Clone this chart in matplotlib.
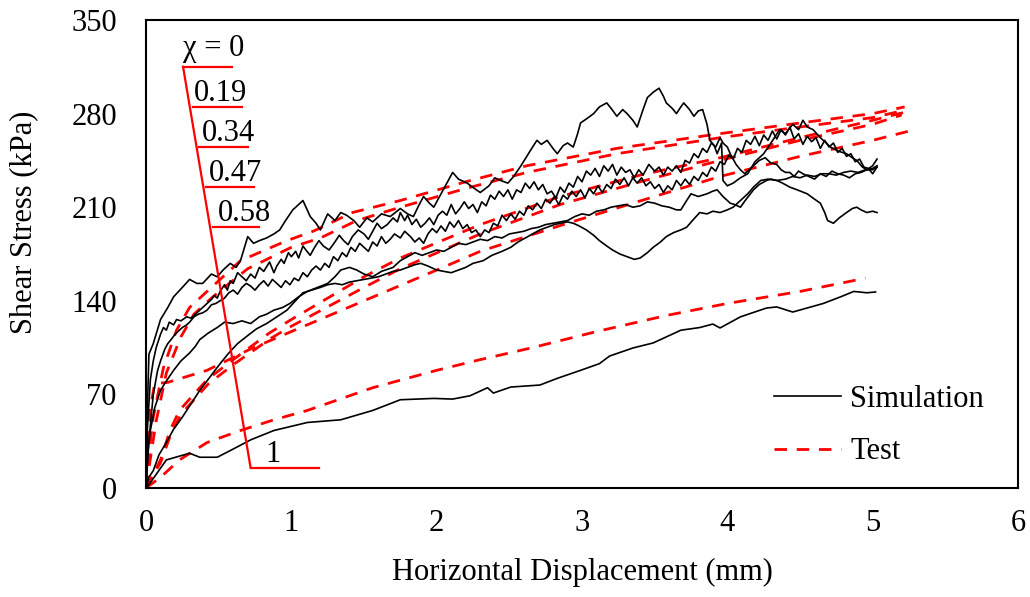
import numpy as np
import matplotlib
matplotlib.use("Agg")
from matplotlib import pyplot as plt

plt.rcParams['font.family'] = ['Liberation Serif', 'DejaVu Serif']

################
# Data Storage #
################

# Simulation curves (black): (displacement mm, shear stress kPa)
sim1 = [(0, 0), (0.01, 60), (0.02, 100), (0.05, 108), (0.1, 126), (0.15, 135), (0.19, 143),
        (0.25, 150), (0.3, 156), (0.35, 153), (0.39, 153), (0.45, 160), (0.49, 158), (0.53, 163),
        (0.58, 168), (0.62, 165), (0.65, 170), (0.7, 188), (0.74, 183), (0.78, 185), (0.83, 187),
        (0.88, 190), (0.92, 193), (0.96, 200), (1.01, 208), (1.05, 212), (1.08, 215), (1.13, 203),
        (1.17, 198), (1.2, 193), (1.25, 205), (1.3, 200), (1.34, 206), (1.38, 204), (1.43, 200),
        (1.47, 195), (1.52, 202), (1.56, 199), (1.62, 205), (1.68, 203), (1.75, 209), (1.8, 205),
        (1.84, 203), (1.88, 212), (1.91, 218), (1.95, 213), (1.98, 210), (2.04, 222), (2.08, 230),
        (2.11, 236), (2.15, 231), (2.21, 228), (2.26, 224), (2.3, 221), (2.36, 226), (2.4, 232),
        (2.44, 230), (2.49, 228), (2.53, 233), (2.58, 241), (2.62, 248), (2.66, 255), (2.69, 260),
        (2.72, 257), (2.76, 260), (2.8, 254), (2.83, 250), (2.87, 256), (2.9, 258), (2.94, 255),
        (2.97, 265), (2.99, 273), (3.03, 276), (3.08, 280), (3.12, 285), (3.17, 288), (3.2, 284),
        (3.24, 278), (3.28, 283), (3.31, 280), (3.35, 275), (3.38, 270), (3.42, 283), (3.45, 292),
        (3.49, 296), (3.53, 299), (3.56, 293), (3.58, 288), (3.62, 284), (3.65, 280), (3.68, 285),
        (3.7, 288), (3.74, 283), (3.77, 278), (3.8, 282), (3.83, 283), (3.86, 272), (3.88, 260),
        (3.91, 256), (3.93, 250), (3.96, 258), (3.97, 230), (4.0, 226), (4.04, 228), (4.09, 232),
        (4.14, 235), (4.19, 244), (4.25, 250), (4.3, 258), (4.36, 268), (4.4, 265), (4.45, 272),
        (4.49, 268), (4.52, 275), (4.55, 270), (4.59, 268), (4.64, 262), (4.71, 255), (4.76, 252),
        (4.82, 250), (4.86, 247), (4.89, 245), (4.93, 240), (4.96, 238), (5.0, 241), (5.03, 246)]

sim2 = [(0, 0), (0.01, 45), (0.03, 81), (0.05, 95), (0.07, 105), (0.1, 115), (0.12, 120),
        (0.14, 118), (0.16, 124), (0.19, 122), (0.21, 126), (0.24, 125), (0.28, 128), (0.31, 127),
        (0.35, 131), (0.38, 134), (0.42, 138), (0.45, 141), (0.47, 144), (0.49, 142), (0.51, 147),
        (0.54, 152), (0.56, 148), (0.58, 155), (0.6, 153), (0.63, 161), (0.66, 158), (0.69, 155),
        (0.72, 160), (0.75, 157), (0.78, 165), (0.81, 162), (0.85, 169), (0.88, 161), (0.9, 166),
        (0.93, 171), (0.95, 168), (0.98, 176), (1.0, 173), (1.03, 177), (1.05, 172), (1.08, 181),
        (1.1, 178), (1.13, 174), (1.16, 180), (1.19, 185), (1.22, 181), (1.26, 178), (1.3, 184),
        (1.33, 189), (1.36, 185), (1.39, 182), (1.42, 188), (1.46, 193), (1.5, 190), (1.53, 186),
        (1.56, 192), (1.59, 198), (1.62, 194), (1.66, 197), (1.7, 202), (1.73, 199), (1.75, 206),
        (1.78, 200), (1.8, 204), (1.83, 197), (1.86, 201), (1.89, 195), (1.92, 198), (1.95, 202),
        (1.98, 197), (2.01, 204), (2.04, 207), (2.07, 204), (2.1, 212), (2.13, 205), (2.16, 209),
        (2.19, 214), (2.22, 209), (2.25, 212), (2.28, 206), (2.31, 214), (2.34, 211), (2.37, 219),
        (2.4, 216), (2.43, 222), (2.46, 218), (2.49, 223), (2.52, 216), (2.55, 223), (2.58, 221),
        (2.61, 228), (2.64, 224), (2.67, 229), (2.7, 223), (2.73, 227), (2.76, 220), (2.79, 222),
        (2.82, 217), (2.85, 225), (2.88, 221), (2.91, 228), (2.94, 225), (2.97, 233), (3.0, 229),
        (3.03, 237), (3.06, 234), (3.09, 239), (3.12, 233), (3.15, 241), (3.18, 237), (3.21, 242),
        (3.24, 234), (3.27, 240), (3.3, 236), (3.33, 238), (3.36, 232), (3.39, 238), (3.42, 234),
        (3.46, 242), (3.5, 237), (3.53, 240), (3.56, 234), (3.59, 240), (3.62, 237), (3.65, 241),
        (3.68, 236), (3.71, 245), (3.74, 243), (3.77, 250), (3.8, 247), (3.83, 254), (3.86, 251),
        (3.89, 258), (3.92, 255), (3.95, 262), (3.97, 258), (4.0, 255), (4.02, 250), (4.04, 246),
        (4.06, 242), (4.09, 238), (4.12, 235), (4.15, 238), (4.18, 241), (4.22, 245), (4.26, 247),
        (4.3, 243), (4.34, 242), (4.37, 238), (4.4, 236), (4.43, 236), (4.46, 233), (4.49, 237),
        (4.52, 235), (4.56, 233), (4.6, 231), (4.64, 235), (4.68, 233), (4.72, 237), (4.76, 235),
        (4.8, 234), (4.84, 232), (4.88, 235), (4.92, 236), (4.96, 238), (5.0, 239), (5.03, 241)]

sim3 = [(0, 0), (0.02, 35), (0.05, 70), (0.08, 88), (0.1, 95), (0.13, 104), (0.15, 108),
        (0.18, 112), (0.2, 115), (0.23, 118), (0.25, 120), (0.28, 122), (0.3, 124), (0.33, 128),
        (0.36, 130), (0.39, 131), (0.42, 133), (0.45, 137), (0.48, 138), (0.51, 140), (0.54, 142),
        (0.57, 146), (0.6, 148), (0.63, 145), (0.66, 150), (0.69, 153), (0.72, 151), (0.75, 148),
        (0.78, 152), (0.81, 155), (0.84, 151), (0.87, 156), (0.9, 153), (0.93, 150), (0.96, 155),
        (0.99, 152), (1.02, 157), (1.05, 155), (1.08, 161), (1.11, 158), (1.14, 163), (1.17, 166),
        (1.2, 163), (1.23, 168), (1.26, 165), (1.29, 173), (1.32, 170), (1.35, 176), (1.38, 173),
        (1.41, 180), (1.44, 177), (1.47, 183), (1.5, 180), (1.53, 177), (1.56, 184), (1.59, 181),
        (1.62, 188), (1.65, 183), (1.68, 186), (1.71, 190), (1.75, 187), (1.78, 192), (1.82, 188),
        (1.85, 184), (1.88, 187), (1.91, 183), (1.94, 190), (1.97, 194), (2.0, 191), (2.03, 196),
        (2.06, 192), (2.09, 199), (2.12, 195), (2.15, 200), (2.18, 194), (2.21, 197), (2.24, 191),
        (2.27, 193), (2.3, 188), (2.33, 193), (2.36, 191), (2.39, 198), (2.42, 196), (2.45, 204),
        (2.48, 200), (2.51, 205), (2.54, 201), (2.57, 207), (2.6, 204), (2.63, 211), (2.66, 208),
        (2.69, 213), (2.72, 209), (2.75, 216), (2.78, 213), (2.81, 218), (2.84, 212), (2.87, 219),
        (2.9, 216), (2.93, 222), (2.96, 218), (2.99, 223), (3.02, 217), (3.05, 224), (3.08, 220),
        (3.11, 226), (3.14, 221), (3.17, 227), (3.2, 224), (3.23, 231), (3.26, 227), (3.29, 232),
        (3.32, 226), (3.35, 232), (3.38, 228), (3.41, 232), (3.44, 226), (3.47, 229), (3.5, 224),
        (3.53, 227), (3.56, 221), (3.59, 226), (3.62, 223), (3.65, 230), (3.68, 226), (3.71, 231),
        (3.74, 227), (3.77, 233), (3.8, 230), (3.83, 236), (3.86, 233), (3.89, 240), (3.92, 237),
        (3.95, 244), (3.98, 242), (4.01, 249), (4.04, 246), (4.07, 254), (4.1, 251), (4.13, 260),
        (4.16, 257), (4.19, 263), (4.22, 256), (4.25, 264), (4.28, 260), (4.31, 267), (4.34, 261),
        (4.37, 268), (4.4, 264), (4.43, 270), (4.46, 261), (4.49, 265), (4.52, 257), (4.55, 263),
        (4.58, 259), (4.61, 262), (4.64, 254), (4.67, 260), (4.7, 255), (4.73, 258), (4.76, 251),
        (4.79, 254), (4.82, 248), (4.85, 250), (4.88, 244), (4.91, 246), (4.94, 240), (4.97, 239),
        (5.0, 235), (5.03, 240)]

sim4 = [(0, 0), (0.01, 25), (0.03, 43), (0.06, 60), (0.1, 73), (0.14, 80), (0.19, 88), (0.24, 95),
        (0.3, 101), (0.34, 106), (0.37, 111), (0.43, 116), (0.49, 120), (0.54, 124), (0.6, 123),
        (0.66, 125), (0.72, 123), (0.78, 128), (0.83, 130), (0.88, 133), (0.94, 135), (0.99, 138),
        (1.05, 143), (1.11, 147), (1.18, 150), (1.25, 153), (1.3, 158), (1.34, 163), (1.4, 165),
        (1.45, 163), (1.5, 160), (1.56, 158), (1.62, 162), (1.7, 165), (1.75, 170), (1.8, 173),
        (1.85, 176), (1.9, 174), (1.95, 176), (2.0, 178), (2.05, 177), (2.1, 180), (2.15, 183),
        (2.2, 182), (2.25, 184), (2.3, 186), (2.35, 185), (2.4, 188), (2.45, 187), (2.5, 190),
        (2.55, 191), (2.6, 192), (2.65, 194), (2.7, 195), (2.75, 197), (2.8, 198), (2.85, 199),
        (2.9, 200), (2.95, 203), (3.0, 205), (3.05, 204), (3.1, 207), (3.15, 208), (3.2, 210),
        (3.25, 211), (3.3, 212), (3.35, 210), (3.4, 211), (3.45, 214), (3.5, 213), (3.55, 211),
        (3.6, 210), (3.65, 208), (3.68, 208), (3.72, 215), (3.75, 220), (3.8, 218), (3.86, 220),
        (3.9, 222), (3.93, 223), (3.97, 218), (4.02, 213), (4.05, 212), (4.09, 210), (4.13, 216),
        (4.18, 223), (4.22, 227), (4.27, 230), (4.3, 231), (4.34, 230), (4.38, 228), (4.43, 225),
        (4.48, 223), (4.55, 220), (4.6, 216), (4.64, 213), (4.67, 206), (4.69, 200), (4.71, 199),
        (4.73, 198), (4.77, 202), (4.82, 206), (4.86, 209), (4.89, 210), (4.92, 208), (4.96, 206),
        (5.0, 207), (5.03, 206)]

sim5 = [(0, 0), (0.02, 8), (0.05, 13), (0.09, 25), (0.14, 34), (0.19, 44), (0.25, 53), (0.31, 63),
        (0.37, 73), (0.44, 83), (0.51, 93), (0.57, 101), (0.63, 108), (0.7, 114), (0.76, 119),
        (0.83, 123), (0.9, 128), (0.97, 133), (1.02, 139), (1.08, 146), (1.14, 148), (1.2, 150),
        (1.25, 152), (1.3, 153), (1.35, 152), (1.4, 154), (1.45, 155), (1.5, 156), (1.55, 157),
        (1.6, 158), (1.65, 160), (1.7, 162), (1.75, 163), (1.8, 165), (1.85, 167), (1.89, 168),
        (1.94, 166), (2.0, 163), (2.05, 162), (2.1, 161), (2.15, 163), (2.2, 165), (2.25, 168),
        (2.32, 170), (2.38, 174), (2.45, 177), (2.51, 180), (2.56, 184), (2.61, 187), (2.66, 190),
        (2.71, 193), (2.76, 195), (2.81, 197), (2.85, 198), (2.9, 199), (2.94, 198), (2.98, 196),
        (3.03, 193), (3.08, 189), (3.12, 185), (3.17, 181), (3.21, 178), (3.26, 175), (3.31, 173),
        (3.36, 171), (3.4, 172), (3.45, 176), (3.49, 180), (3.54, 184), (3.58, 188), (3.63, 191),
        (3.68, 193), (3.72, 195), (3.76, 200), (3.81, 206), (3.86, 205), (3.9, 207), (3.95, 206),
        (4.0, 208), (4.04, 210), (4.09, 215), (4.14, 220), (4.18, 225), (4.23, 230), (4.28, 231),
        (4.34, 230), (4.4, 231), (4.45, 233), (4.5, 232), (4.55, 234), (4.6, 233), (4.65, 235),
        (4.7, 235), (4.75, 234), (4.8, 236), (4.85, 237), (4.9, 236), (4.95, 238), (5.0, 238),
        (5.03, 240)]

sim6 = [(0, 0), (0.03, 4), (0.14, 21), (0.3, 26), (0.37, 23), (0.49, 23), (0.58, 28), (0.72, 36),
        (0.88, 43), (1.11, 49), (1.34, 51), (1.56, 58), (1.75, 66), (1.98, 67), (2.11, 66.5),
        (2.23, 69), (2.35, 75), (2.39, 71), (2.51, 75.5), (2.71, 77), (2.83, 82), (2.99, 88),
        (3.12, 93), (3.19, 98.7), (3.35, 104.7), (3.49, 108.5), (3.68, 118), (3.81, 120),
        (3.9, 122.6), (3.95, 119.7), (4.09, 128), (4.27, 134.6), (4.34, 135.4), (4.45, 131.6),
        (4.66, 138), (4.78, 143), (4.87, 147), (4.96, 146), (5.02, 146.6)]

# Test curves (red dashed)
test_a = [(0, 0), (0.02, 25), (0.05, 53), (0.12, 90), (0.21, 118), (0.3, 135), (0.42, 147),
          (0.51, 156), (0.65, 170), (0.97, 185), (1.15, 192), (1.42, 206), (1.75, 215),
          (2.2, 229), (2.62, 241), (3.24, 254), (3.95, 265), (4.5, 273), (5.0, 280), (5.22, 285)]
test_b = [(0, 0), (0.03, 22), (0.07, 50), (0.14, 86), (0.24, 113), (0.33, 130), (0.45, 142),
          (0.55, 151), (0.7, 164), (1.0, 180), (1.2, 187), (1.45, 200), (1.75, 210), (2.2, 224),
          (2.62, 236), (3.24, 250), (3.95, 262), (4.5, 270), (5.0, 277), (5.2, 282)]
test_c = [(0, 0), (0.1, 21), (0.165, 43), (0.23, 58), (0.42, 81), (0.6, 96), (0.85, 116),
          (1.0, 126), (1.5, 158), (1.75, 172), (2.3, 197), (2.85, 218), (3.4, 234), (3.95, 247),
          (4.5, 262), (5.0, 275), (5.22, 281)]
test_d = [(0, 0), (0.1, 19), (0.17, 40), (0.24, 55), (0.43, 78), (0.61, 93), (0.86, 112),
          (1.0, 121), (1.5, 150), (1.75, 164), (2.3, 190), (2.85, 212), (3.4, 229), (3.95, 245),
          (4.5, 260), (5.0, 272), (5.2, 279)]
test_e = [(0, 0), (0.03, 60), (0.06, 78), (0.15, 79), (0.42, 88), (0.72, 104), (1.0, 117),
          (1.5, 140), (2.0, 163), (2.3, 177), (2.9, 198), (3.95, 233), (4.5, 248), (5.0, 260),
          (5.29, 268)]
test_f = [(0, 0), (0.1, 8), (0.23, 21), (0.42, 34), (0.65, 43), (0.88, 51), (1.11, 58),
          (1.56, 75), (2.0, 88), (2.3, 96), (2.66, 105), (3.1, 117), (3.58, 129), (4.0, 138),
          (4.5, 147), (4.91, 156), (4.95, 157)]

# Bracket annotation for the chi values (data coordinates)
chi_labels = ['\u03c7 = 0', '0.19', '0.34', '0.47', '0.58', '1']
chi_tick_y = [315, 285, 255, 225, 195, 15]
chi_tick_x0 = [0.255, 0.32, 0.365, 0.41, 0.46, 0.72]
chi_tick_x1 = [0.59, 0.66, 0.70, 0.74, 0.78, 1.19]
chi_text_x = [0.255, 0.33, 0.385, 0.434, 0.495, 0.82]
chi_text_y = [323, 289.5, 259.5, 229.5, 199.5, 19.5]

###################
# Figure / Axes   #
###################

FS = 22

fig = plt.figure(figsize=(10.30, 5.97), dpi=100)
ax = fig.add_axes([146/1030, 1 - 488/597, 872/1030, 468/597])

sims = [sim1, sim2, sim3, sim4, sim5, sim6]
tests = [test_a, test_b, test_c, test_d, test_e, test_f]

for i, pts in enumerate(sims):
    x, y = zip(*pts)
    ax.plot(x, y, color='black', linewidth=1.2,
            label='Simulation' if i == 0 else None, zorder=3)

for i, pts in enumerate(tests):
    x, y = zip(*pts)
    ax.plot(x, y, color='#ff0000', linewidth=2.0, linestyle=(0, (4.5, 3.5)),
            label='Test' if i == 0 else None, zorder=2)

# chi bracket
ax.plot([chi_tick_x0[0], chi_tick_x0[-1]], [chi_tick_y[0], chi_tick_y[-1]],
        color='#ff0000', linewidth=1.6, zorder=4)
for x0, x1, yy in zip(chi_tick_x0, chi_tick_x1, chi_tick_y):
    ax.plot([x0, x1], [yy, yy], color='#ff0000', linewidth=1.6, zorder=4)
for lab, tx, ty in zip(chi_labels, chi_text_x, chi_text_y):
    ax.text(tx, ty, lab, fontsize=FS, ha='left', va='baseline', zorder=5)

ax.set_xlim(0, 6)
ax.set_ylim(0, 350)
ax.set_xticks(range(0, 7))
ax.set_yticks(range(0, 351, 70))
ax.tick_params(axis='x', length=0, labelsize=FS, pad=15)
ax.tick_params(axis='y', length=0, labelsize=FS, pad=21)
for s in ax.spines.values():
    s.set_linewidth(1.5)

ax.set_xlabel('Horizontal Displacement (mm)', fontsize=FS)
ax.set_ylabel('Shear Stress (kPa)', fontsize=FS)
ax.xaxis.set_label_coords(0.5, -0.15)
ax.yaxis.set_label_coords(-0.124, 0.568)

ax.legend(loc='lower right', bbox_to_anchor=(0.975, 0.02), frameon=False,
          fontsize=FS, handlelength=2.2, labelspacing=0.78, borderaxespad=0,
          handletextpad=0.3)

fig.savefig('out.png', dpi=100)
